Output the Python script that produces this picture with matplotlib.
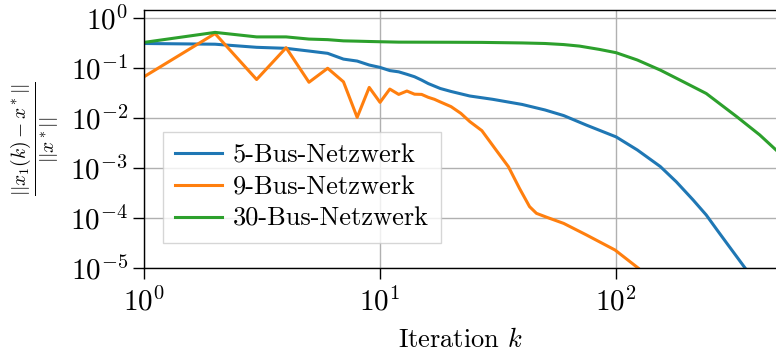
"""Relativer Fehler über den Iterationen für drei Netzwerke (log-log)."""

import matplotlib

matplotlib.use("Agg")
import matplotlib.pyplot as plt
from matplotlib.ticker import LogLocator, NullLocator

# 5-Bus-Netzwerk
k_5bus = [1, 2, 3, 4, 5, 6, 7, 8, 9, 10, 11, 12, 13, 14, 15, 16, 18, 20, 24, 30,
          40, 50, 60, 75, 100, 123, 154, 180, 212, 241, 268, 295, 352]
err_5bus = [0.31, 0.30, 0.26, 0.248, 0.219, 0.197, 0.151, 0.138, 0.115, 0.103,
            0.089, 0.084, 0.075, 0.067, 0.0575, 0.049, 0.039, 0.034, 0.0276, 0.0237,
            0.0187, 0.0145, 0.0112, 0.0072, 0.0042, 0.0023, 0.00107, 5.3e-4, 2.3e-4,
            1.15e-4, 5.75e-5, 3.1e-5, 1.0e-5]

# 9-Bus-Netzwerk
k_9bus = [1, 2, 3, 4, 5, 6, 7, 8, 9, 10, 11, 12, 13, 14, 15, 16, 17, 18, 20, 22,
          24, 27, 31, 35, 39, 43, 46, 51, 60, 75, 99, 124]
err_9bus = [0.067, 0.49, 0.059, 0.255, 0.052, 0.099, 0.053, 0.0103, 0.041, 0.0206,
            0.038, 0.0297, 0.0347, 0.030, 0.0297, 0.026, 0.0237, 0.021, 0.0169, 0.0124,
            0.0085, 0.0056, 0.0023, 0.00106, 3.9e-4, 1.69e-4, 1.24e-4, 1.03e-4, 7.8e-5,
            4.57e-5, 2.29e-5, 1.0e-5]

# 30-Bus-Netzwerk
k_30bus = [1, 2, 3, 4, 5, 6, 7, 8, 9, 10, 12, 20, 27, 40, 50, 60, 70, 85, 100, 123,
           154, 193, 241, 325, 406, 476]
err_30bus = [0.326, 0.517, 0.42, 0.42, 0.38, 0.37, 0.35, 0.345, 0.34, 0.336, 0.33,
             0.328, 0.326, 0.318, 0.31, 0.295, 0.275, 0.236, 0.203, 0.145, 0.091,
             0.053, 0.031, 0.0106, 0.0046, 0.0023]

labels = ["5-Bus-Netzwerk", "9-Bus-Netzwerk", "30-Bus-Netzwerk"]
colors = ["#1f77b4", "#ff7f0e", "#2ca02c"]

plt.rcParams.update(
    {
        "font.family": "serif",
        "font.serif": ["cmr10"],
        "mathtext.fontset": "cm",
        "axes.formatter.use_mathtext": True,
        "axes.unicode_minus": False,
        "font.size": 19,
    }
)

fig = plt.figure(figsize=(7.76, 3.53), dpi=100)
ax = fig.add_axes([144 / 776, 1 - 268 / 353, 1 - 144 / 776, (268 - 10) / 353])

series = [(k_5bus, err_5bus), (k_9bus, err_9bus), (k_30bus, err_30bus)]
for (ks, errs), label, color in zip(series, labels, colors):
    ax.plot(ks, errs, color=color, linewidth=2.2, label=label)

ax.set_xscale("log")
ax.set_yscale("log")
ax.set_xlim(1, 476)
ax.set_ylim(1e-5, 1.45)
ax.xaxis.set_major_locator(LogLocator(base=10, numticks=10))
ax.yaxis.set_major_locator(LogLocator(base=10, numticks=10))
ax.xaxis.set_minor_locator(NullLocator())
ax.yaxis.set_minor_locator(NullLocator())
ax.tick_params(axis="both", which="major", length=8, width=1, labelsize=21, direction="out")
ax.tick_params(axis="x", pad=6)
ax.grid(True, which="major", color="#b0b0b0", linewidth=1)
ax.spines["right"].set_visible(False)
for side in ("left", "bottom", "top"):
    ax.spines[side].set_linewidth(1)

ax.set_xlabel(r"Iteration $k$", fontsize=19, labelpad=8)
ax.set_ylabel(r"$\frac{||x_1(k) - x^*||}{||x^*||}$", fontsize=20)
ax.yaxis.set_label_coords(-0.133, 0.5)

ax.legend(
    loc="upper left",
    bbox_to_anchor=(163 / 776, 1 - 132 / 353),
    bbox_transform=fig.transFigure,
    borderaxespad=0,
    fontsize=19,
    fancybox=False,
    framealpha=0.8,
    edgecolor="#cccccc",
    handlelength=1.8,
    handletextpad=0.4,
    labelspacing=0.3,
    borderpad=0.45,
)

fig.savefig("out.png", dpi=100)
